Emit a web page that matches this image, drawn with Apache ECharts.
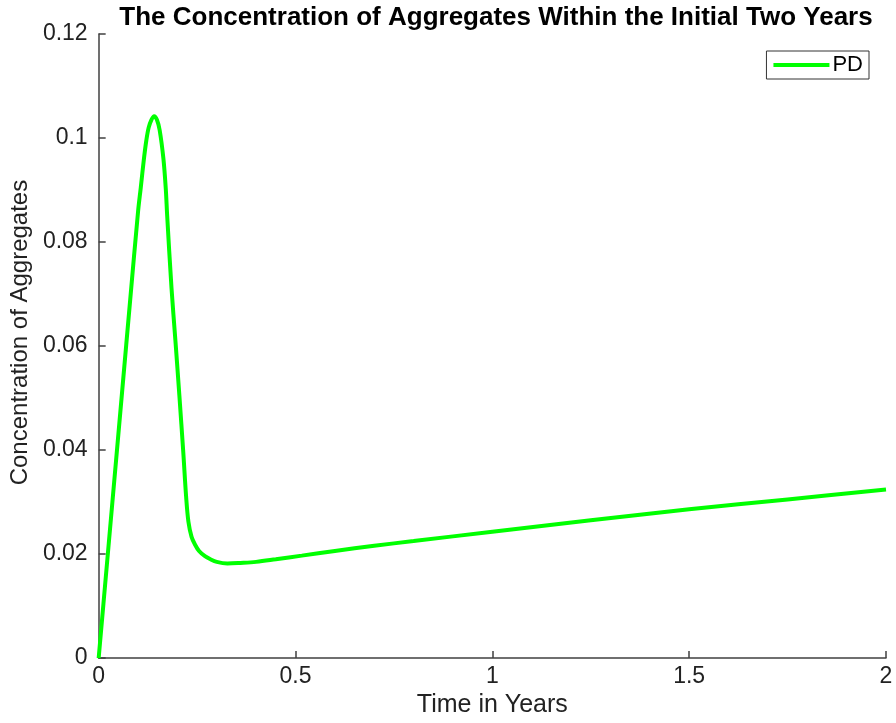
<!DOCTYPE html>
<html>
<head>
<meta charset="utf-8">
<script src="https://cdn.jsdelivr.net/npm/echarts@6/dist/echarts.min.js"></script>
<style>
  html, body { margin: 0; padding: 0; background: #fff; }
  #chart { width: 896px; height: 723px; }
</style>
</head>
<body>
<div id="chart"></div>
<script>
// Time (years) and PD aggregate concentration
const timeYears = [
  0, 0.02, 0.04, 0.06, 0.08, 0.10, 0.107, 0.115, 0.121, 0.127, 0.134, 0.141,
  0.148, 0.155, 0.1645, 0.1705, 0.174, 0.185, 0.195, 0.205, 0.215, 0.222,
  0.228, 0.236, 0.245, 0.255, 0.27, 0.284, 0.30, 0.327, 0.36, 0.40, 0.45,
  0.516, 0.60, 0.70, 0.80, 1.0, 1.25, 1.5, 1.75, 2.0
];
const pdConcentration = [
  0, 0.0172, 0.0344, 0.0516, 0.0688, 0.0858, 0.0905, 0.0960, 0.0995, 0.1020, 0.1035, 0.1042,
  0.1035, 0.1015, 0.0960, 0.0902, 0.0851, 0.0712, 0.0610, 0.0505, 0.0395, 0.0312,
  0.0262, 0.0233, 0.0218, 0.0206, 0.0196, 0.0190, 0.0185, 0.0182, 0.0183, 0.0185, 0.0190,
  0.0197, 0.0206, 0.0216, 0.0225, 0.0243, 0.0265, 0.0286, 0.0305, 0.0324
];
const xTicks = [0, 0.5, 1, 1.5, 2];
const yTicks = [0, 0.02, 0.04, 0.06, 0.08, 0.1, 0.12];

const FONT = '"Liberation Sans", Arial, Helvetica, sans-serif';
const AXIS_COLOR = '#404040';

const chart = echarts.init(document.getElementById('chart'), null, { renderer: 'canvas' });
chart.setOption({
  animation: false,
  backgroundColor: '#ffffff',
  title: {
    text: 'The Concentration of Aggregates Within the Initial Two Years',
    left: 491,
    textAlign: 'center',
    top: 0,
    textStyle: { fontFamily: FONT, fontSize: 26, fontWeight: 'bold', color: '#000' }
  },
  legend: {
    right: 27,
    top: 51,
    orient: 'vertical',
    backgroundColor: '#fff',
    borderColor: '#333',
    borderWidth: 1,
    borderRadius: 0,
    padding: [3, 6, 3, 7],
    itemWidth: 56,
    itemHeight: 4,
    itemGap: 0,
    icon: 'rect',
    textStyle: { fontFamily: FONT, fontSize: 22, color: '#000', padding: [0, 0, 0, -2] },
    data: ['PD']
  },
  grid: { left: 96, right: 10, top: 34, bottom: 60, containLabel: false },
  xAxis: {
    type: 'value',
    min: xTicks[0],
    max: xTicks[xTicks.length - 1],
    interval: 0.5,
    name: 'Time in Years',
    nameLocation: 'middle',
    nameGap: 33,
    nameTextStyle: { fontFamily: FONT, fontSize: 25, color: '#222' },
    axisLine: { show: true, onZero: false, lineStyle: { color: AXIS_COLOR, width: 1.5 } },
    axisTick: { show: true, inside: true, length: 7, lineStyle: { color: AXIS_COLOR, width: 1.5 } },
    axisLabel: {
      fontFamily: FONT, fontSize: 23, color: '#222', margin: 7,
      formatter: v => String(v)
    },
    splitLine: { show: false }
  },
  yAxis: {
    type: 'value',
    min: yTicks[0],
    max: yTicks[yTicks.length - 1],
    interval: 0.02,
    name: 'Concentration of Aggregates',
    nameLocation: 'middle',
    nameGap: 60,
    nameRotate: 90,
    nameTextStyle: { fontFamily: FONT, fontSize: 24, color: '#222', padding: [0, 0, 0, 27] },
    axisLine: { show: true, onZero: false, lineStyle: { color: AXIS_COLOR, width: 1.5 } },
    axisTick: { show: true, inside: true, length: 7, lineStyle: { color: AXIS_COLOR, width: 1.5 } },
    axisLabel: {
      fontFamily: FONT, fontSize: 23, color: '#222', margin: 11,
      formatter: v => String(+v.toFixed(2))
    },
    splitLine: { show: false }
  },
  series: [{
    name: 'PD',
    type: 'line',
    data: timeYears.map((t, i) => [t, pdConcentration[i]]),
    showSymbol: false,
    smooth: 0.35,
    lineStyle: { color: '#00ff00', width: 4 },
    itemStyle: { color: '#00ff00' },
    clip: false
  }]
});
</script>
</body>
</html>
